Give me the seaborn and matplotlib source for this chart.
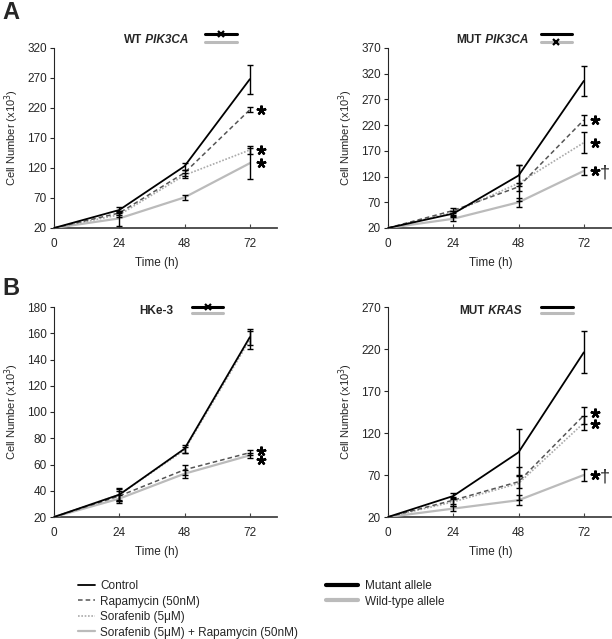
import numpy as np
import pandas as pd
import seaborn as sns
import matplotlib.pyplot as plt
from matplotlib.lines import Line2D

sns.set_style('ticks')
plt.rcParams['font.family'] = ['Liberation Sans', 'DejaVu Sans']

time_h = [0, 24, 48, 72]
treatments = ['Control', 'Rapamycin (50nM)', 'Sorafenib (5\u03bcM)',
              'Sorafenib (5\u03bcM) + Rapamycin (50nM)']

# WT PIK3CA
wt_pik_mean = [[20, 50, 123, 268], [20, 45, 112, 217], [20, 42, 108, 150], [20, 36, 71, 128]]
wt_pik_err = [[0, 5, 6, 24], [0, 4, 5, 4], [0, 4, 4, 7], [0, 12, 4, 26]]
# MUT PIK3CA
mut_pik_mean = [[20, 48, 122, 306], [20, 54, 100, 230], [20, 50, 107, 186], [20, 38, 70, 131]]
mut_pik_err = [[0, 5, 20, 29], [0, 4, 8, 10], [0, 4, 35, 20], [0, 4, 9, 8]]
# HKe-3
hke_mean = [[20, 37, 72, 157], [20, 36, 56, 69], [20, 37, 71, 155], [20, 34, 53, 67]]
hke_err = [[0, 5, 3, 6], [0, 4, 4, 2], [0, 4, 2, 7], [0, 3, 3, 2]]
# MUT KRAS
mut_kras_mean = [[20, 45, 97, 216], [20, 40, 62, 141], [20, 38, 60, 132], [20, 30, 40, 70]]
mut_kras_err = [[0, 4, 28, 25], [0, 4, 8, 10], [0, 5, 20, 8], [0, 3, 6, 7]]

styles = [dict(color='black', lw=1.3, ls='-'),
          dict(color='#555555', lw=1.1, ls=(0, (3, 2))),
          dict(color='#aaaaaa', lw=1.2, ls=(0, (1, 1))),
          dict(color='#bbbbbb', lw=1.6, ls='-')]

FS = 8.5
fig = plt.figure(figsize=(6.12, 6.39), dpi=100)
W, H = 612, 639


def make_ax(x0, y0, x1, y1):
    return fig.add_axes([x0 / W, 1 - y1 / H, (x1 - x0) / W, (y1 - y0) / H])


def draw_panel(ax, means, errs, yticks, title, italic, xmark, stars, star_dy, lab_y):
    for i, name in enumerate(treatments):
        df = pd.DataFrame({'t': time_h, 'v': means[i]})
        sns.lineplot(data=df, x='t', y='v', ax=ax, color=styles[i]['color'],
                     lw=styles[i]['lw'], linestyle=styles[i]['ls'], zorder=3 - i * 0.1)
    for i in range(4):
        ax.errorbar(time_h[1:], means[i][1:], yerr=errs[i][1:], fmt='none',
                    ecolor='black', elinewidth=1.0, capsize=2.5, capthick=1.0, zorder=4)
    for i, s in enumerate(stars):
        if s:
            y = means[i + 1][3] + star_dy[i]
            ax.plot([76], [y], marker=(5, 2, 0), ms=7, mew=1.7, color='black',
                    clip_on=False, zorder=5)
            if s == '*\u2020':
                ax.annotate('\u2020', xy=(79.6, y), xytext=(0, -1.5), textcoords='offset points',
                            fontsize=13, va='center', ha='center',
                            annotation_clip=False)
    ax.set_xlim(0, 82)
    ax.set_ylim(yticks[0], yticks[-1])
    ax.set_xticks(time_h)
    ax.set_yticks(yticks)
    ax.tick_params(axis='x', direction='in', length=3, pad=7, labelsize=FS, color='#444444')
    ax.tick_params(axis='y', direction='out', length=3, pad=2, labelsize=FS, width=0.8)
    sns.despine(ax=ax)
    ax.spines['bottom'].set_color('#444444')
    ax.spines['bottom'].set_linewidth(1.3)
    ax.spines['left'].set_linewidth(0.8)
    ax.set_xlabel('Time (h)', fontsize=FS)
    ax.set_ylabel('Cell Number (x10$^3$)', fontsize=8)
    ax.xaxis.set_label_coords(0.46, lab_y)
    ax.yaxis.set_label_coords(-0.15, 0.5)
    # title and allele key
    ty, y_blk, y_gry = title[1], title[2], title[3]
    t = ax.text(title[5], ty, title[0], transform=ax.transAxes, fontsize=FS,
                fontweight='bold', ha='right' if italic else 'center', va='center')
    if italic:
        ax.annotate(' ' + italic, xy=(1, 0.5), xycoords=t, fontsize=FS, fontweight='bold',
                    fontstyle='italic', va='center', ha='left')
    x0, x1 = title[4]
    ax.plot([x0, x1], [y_blk, y_blk], transform=ax.transAxes, color='black', lw=2.2, clip_on=False)
    ax.plot([x0, x1], [y_gry, y_gry], transform=ax.transAxes, color='#bbbbbb', lw=2.2, clip_on=False)
    if xmark is not None:
        yy = y_blk if xmark == 'black' else y_gry
        ax.plot([(x0 + x1) / 2], [yy], transform=ax.transAxes, marker='x', ms=4, mew=1.6,
                color='black', clip_on=False)


ax1 = make_ax(54, 48, 277, 228)
draw_panel(ax1, wt_pik_mean, wt_pik_err, [20, 70, 120, 170, 220, 270, 320],
           ('WT', 1.045, 1.078, 1.035, (0.677, 0.821), 0.395), 'PIK3CA', 'black',
           ['*', '*', '*'], [0, 0, 0], -0.16)

ax2 = make_ax(388, 48, 611, 228)
draw_panel(ax2, mut_pik_mean, mut_pik_err, [20, 70, 120, 170, 220, 270, 320, 370],
           ('MUT', 1.045, 1.078, 1.035, (0.686, 0.825), 0.42), 'PIK3CA', 'gray',
           ['*', '*', '*\u2020'], [0, 0, 0], -0.16)

ax3 = make_ax(54, 307, 277, 517)
draw_panel(ax3, hke_mean, hke_err, [20, 40, 60, 80, 100, 120, 140, 160, 180],
           ('HKe-3', 0.98, 1.0, 0.971, (0.619, 0.758), 0.46), None, 'black',
           ['*', '', '*'], [1.5, 0, -3.5], -0.137)

ax4 = make_ax(388, 307, 611, 517)
draw_panel(ax4, mut_kras_mean, mut_kras_err, [20, 70, 120, 170, 220, 270],
           ('MUT', 0.98, 1.0, 0.971, (0.686, 0.83), 0.435), 'KRAS', None,
           ['*', '*', '*\u2020'], [3, -1, 0], -0.137)

fig.text(2 / W, 1 - 1 / H, 'A', fontsize=17, fontweight='bold', va='top', ha='left')
fig.text(2 / W, 1 - 277 / H, 'B', fontsize=17, fontweight='bold', va='top', ha='left')

h_treat = [Line2D([], [], color=s['color'], lw=s['lw'], linestyle=s['ls']) for s in styles]
fig.legend(h_treat, treatments, loc='upper left', bbox_to_anchor=(78 / W, 1 - 580 / H),
           frameon=False, fontsize=FS, handlelength=1.4, handletextpad=0.5,
           labelspacing=0.3, borderaxespad=0, borderpad=0)
h_allele = [Line2D([], [], color='black', lw=3), Line2D([], [], color='#bbbbbb', lw=3)]
fig.legend(h_allele, ['Mutant allele', 'Wild-type allele'], loc='upper left',
           bbox_to_anchor=(326 / W, 1 - 580 / H), frameon=False, fontsize=FS,
           handlelength=2.7, handletextpad=0.6, labelspacing=0.3, borderaxespad=0, borderpad=0)

fig.savefig('out.png', dpi=100)
